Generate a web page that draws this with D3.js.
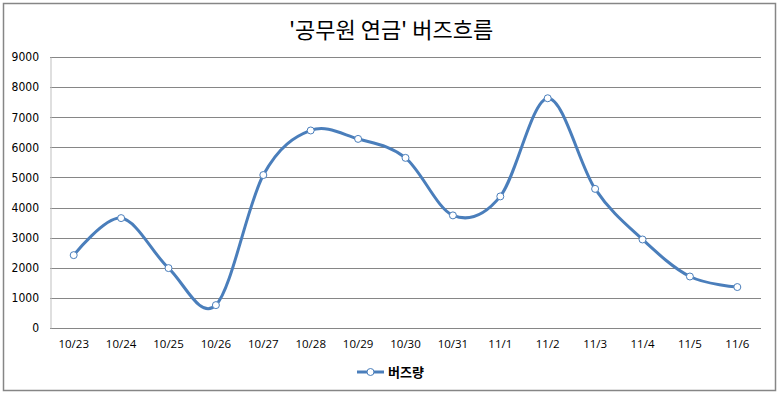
<!DOCTYPE html>
<html>
<head>
<meta charset="utf-8">
<script src="https://cdn.jsdelivr.net/npm/d3@7"></script>
<style>
  body { margin: 0; background: #fff; }
  svg { display: block; }
  .title { font-family: "Noto Sans CJK KR", sans-serif; font-size: 22px; fill: #000; }
  .yAxis text { font-family: "Liberation Sans Narrow", "DejaVu Sans Condensed", sans-serif; font-size: 12px; fill: #000; }
  .xAxis text { font-family: "Open Sans", "Noto Sans", sans-serif; font-size: 11.5px; fill: #000; }
  .legend-label { font-family: "Noto Sans CJK KR", sans-serif; font-size: 13px; font-weight: bold; }
</style>
</head>
<body>
<div id="wrapper"></div>
<script>
// data
const dates = ['10/23', '10/24', '10/25', '10/26', '10/27', '10/28', '10/29', '10/30',
  '10/31', '11/1', '11/2', '11/3', '11/4', '11/5', '11/6'];
const buzz = [2420, 3650, 1990, 760, 5080, 6560, 6280, 5650,
  3740, 4370, 7630, 4620, 2940, 1710, 1360];
const yTicks = [0, 1000, 2000, 3000, 4000, 5000, 6000, 7000, 8000, 9000];
const seriesName = '버즈량';
const titleText = "'공무원 연금' 버즈흐름";

function drawChart() {
  const dataset = dates.map((d, i) => ({ date: d, value: buzz[i] }));
  const xAccessor = d => d.date;
  const yAccessor = d => d.value;

  let dimensions = {
    width: 780,
    height: 396,
    margin: { top: 57, right: 19, bottom: 68, left: 50 },
  }
  dimensions.boundedWidth = dimensions.width - dimensions.margin.left - dimensions.margin.right;
  dimensions.boundedHeight = dimensions.height - dimensions.margin.top - dimensions.margin.bottom;

  const wrapper = d3.select('#wrapper')
    .append('svg')
    .attr('width', dimensions.width)
    .attr('height', dimensions.height);

  // outer border
  wrapper.append('rect')
    .attr('x', 3.5).attr('y', 3.5)
    .attr('width', 772).attr('height', 387)
    .attr('fill', 'none')
    .attr('stroke', '#868686')
    .attr('stroke-width', 1.5);

  wrapper.append('text')
    .attr('class', 'title')
    .attr('x', 391)
    .attr('y', 38)
    .attr('text-anchor', 'middle')
    .text(titleText);

  const bounds = wrapper.append('g')
    .attr('transform', `translate(${dimensions.margin.left},${dimensions.margin.top})`);

  // scales
  const xScale = d3.scaleBand()
    .domain(dates)
    .range([0, dimensions.boundedWidth]);

  const yScale = d3.scaleLinear()
    .domain([0, 9000])
    .range([dimensions.boundedHeight, 0]);

  // gridlines
  bounds.append('g')
    .selectAll('line')
    .data(yTicks)
    .join('line')
    .attr('x1', 0)
    .attr('x2', dimensions.boundedWidth)
    .attr('y1', d => Math.round(yScale(d)) + 0.5)
    .attr('y2', d => Math.round(yScale(d)) + 0.5)
    .attr('stroke', '#868686')
    .attr('stroke-width', 1);

  // y axis
  const yAxis = bounds.append('g')
    .attr('class', 'yAxis')
    .call(d3.axisLeft(yScale).tickValues(yTicks).tickFormat(d3.format('d')).tickSize(0).tickPadding(11));
  yAxis.select('.domain').attr('stroke', '#bfbfbf').attr('transform', 'translate(0.5,0)');

  // x axis
  const xAxis = bounds.append('g')
    .attr('class', 'xAxis')
    .attr('transform', `translate(0,${dimensions.boundedHeight})`)
    .call(d3.axisBottom(xScale).tickSize(0).tickPadding(12));
  xAxis.select('.domain').remove();

  // line
  const lineGenerator = d3.line()
    .x(d => xScale(xAccessor(d)) + xScale.bandwidth() / 2)
    .y(d => yScale(yAccessor(d)))
    .curve(d3.curveCatmullRom.alpha(0));

  bounds.append('path')
    .datum(dataset)
    .attr('d', lineGenerator)
    .attr('fill', 'none')
    .attr('stroke', '#4a7ebb')
    .attr('stroke-width', 3)
    .attr('stroke-linejoin', 'round');

  bounds.selectAll('.dot')
    .data(dataset)
    .join('circle')
    .attr('class', 'dot')
    .attr('cx', d => xScale(xAccessor(d)) + xScale.bandwidth() / 2)
    .attr('cy', d => yScale(yAccessor(d)))
    .attr('r', 3.5)
    .attr('fill', '#fff')
    .attr('stroke', '#4a7ebb')
    .attr('stroke-width', 1);

  // legend
  const legend = wrapper.append('g')
    .attr('transform', 'translate(357,372)');
  legend.append('line')
    .attr('x1', 0).attr('x2', 27)
    .attr('stroke', '#4a7ebb')
    .attr('stroke-width', 3);
  legend.append('circle')
    .attr('cx', 13.5).attr('r', 3.5)
    .attr('fill', '#fff')
    .attr('stroke', '#4a7ebb');
  legend.append('text')
    .attr('class', 'legend-label')
    .attr('x', 31)
    .attr('y', 5)
    .text(seriesName);
}

drawChart();
</script>
</body>
</html>
